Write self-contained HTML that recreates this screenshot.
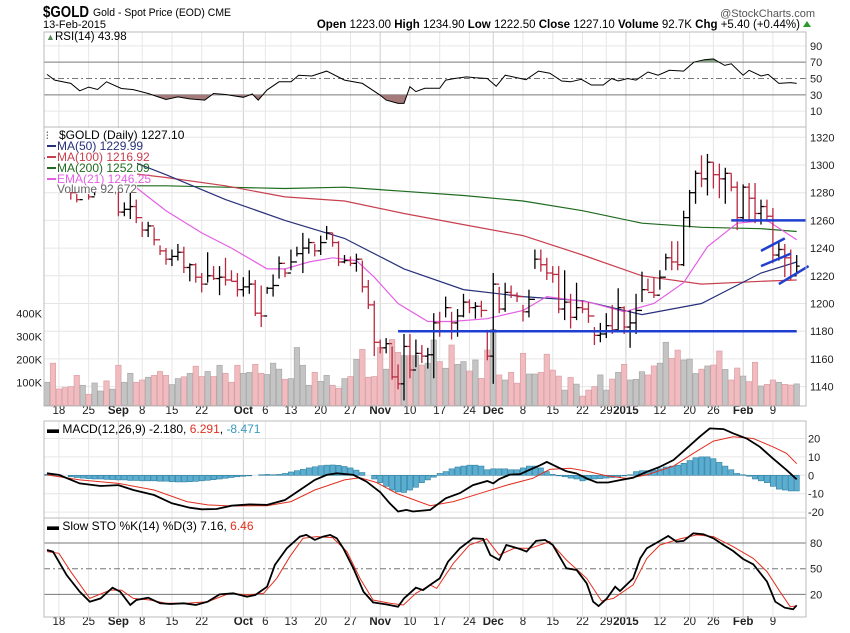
<!DOCTYPE html>
<html><head><meta charset="utf-8">
<style>
body{margin:0;background:#fff;}
svg{display:block;font-family:"Liberation Sans",sans-serif;}
</style></head>
<body>
<svg id="c" width="850" height="633" viewBox="0 0 850 633" xmlns="http://www.w3.org/2000/svg">
  <text x="43" y="17" font-size="16" font-weight="bold" textLength="46" lengthAdjust="spacingAndGlyphs">$GOLD</text>
  <text x="93" y="16" font-size="11" textLength="138" lengthAdjust="spacingAndGlyphs">Gold - Spot Price (EOD)  CME</text>
  <text x="43" y="28" font-size="11">13-Feb-2015</text>
  <text x="815" y="17" font-size="11" text-anchor="end" fill="#555">@StockCharts.com</text>
  <text x="800" y="28" font-size="11.5" text-anchor="end"><tspan font-weight="bold">Open</tspan> 1223.00 <tspan font-weight="bold">High</tspan> 1234.90 <tspan font-weight="bold">Low</tspan> 1222.50 <tspan font-weight="bold">Close</tspan> 1227.10 <tspan font-weight="bold">Volume</tspan> 92.7K <tspan font-weight="bold">Chg</tspan> +5.40 (+0.44%)</text>
  <polygon points="803,27 811,27 807,21" fill="#2a9a2a"/>
  <g id="g"></g>
</svg>
<script>
// ===== DATA =====
const high=[1315,1310,1305,1300,1298,1279,1295,1279,1288,1292,1290,1290,1286,1273,1280,1275,1259,1259,1255,1242,1240,1239,1243,1241,1229,1229,1222,1237,1227,1227,1233,1224,1222,1219,1224,1217,1213,1212,1221,1234,1225,1239,1241,1251,1247,1243,1249,1256,1251,1245,1235,1234,1236,1231,1217,1202,1174,1175,1169,1156,1178,1178,1174,1170,1168,1193,1194,1205,1194,1196,1207,1203,1201,1202,1181,1222,1212,1215,1213,1208,1199,1210,1239,1239,1233,1227,1227,1224,1207,1215,1202,1201,1183,1186,1193,1199,1211,1198,1195,1207,1223,1218,1219,1224,1236,1245,1245,1267,1282,1296,1307,1308,1302,1301,1298,1294,1288,1286,1287,1287,1275,1275,1269,1245,1243,1239,1235];
const low=[1300,1296,1295,1290,1275,1273,1282,1275,1278,1282,1282,1280,1263,1263,1261,1258,1248,1248,1242,1235,1228,1227,1231,1222,1216,1215,1208,1215,1217,1206,1213,1216,1205,1205,1207,1191,1183,1207,1205,1218,1219,1224,1234,1222,1236,1234,1235,1246,1241,1227,1229,1227,1223,1208,1196,1162,1164,1164,1145,1138,1130,1146,1154,1157,1153,1146,1176,1190,1174,1176,1190,1193,1189,1190,1159,1142,1193,1194,1204,1201,1187,1190,1225,1223,1217,1215,1193,1188,1182,1188,1193,1186,1170,1172,1175,1178,1181,1178,1168,1178,1201,1209,1204,1210,1224,1224,1224,1227,1255,1272,1284,1278,1283,1276,1272,1281,1253,1259,1259,1258,1257,1259,1229,1231,1219,1217,1221];
const close=[1305,1300,1298,1293,1280,1275,1284,1277,1284,1287,1286,1287,1266,1268,1270,1262,1253,1256,1246,1238,1232,1234,1237,1226,1228,1219,1214,1220,1218,1219,1217,1216,1210,1212,1214,1193,1191,1211,1213,1229,1222,1230,1236,1240,1244,1238,1244,1251,1244,1230,1231,1229,1232,1212,1199,1172,1168,1171,1147,1142,1169,1152,1164,1162,1163,1186,1180,1197,1186,1191,1201,1197,1198,1195,1162,1214,1196,1208,1206,1205,1194,1203,1232,1228,1222,1221,1196,1201,1190,1197,1196,1191,1177,1178,1184,1181,1197,1183,1186,1195,1210,1208,1206,1219,1233,1230,1228,1262,1280,1294,1290,1302,1293,1290,1294,1284,1262,1284,1276,1265,1270,1263,1235,1239,1233,1220,1227];
const volumeK=[100,183,71,77,81,130,87,48,97,62,106,70,174,100,139,100,110,122,130,147,130,90,116,124,139,170,125,147,125,174,139,100,174,139,143,178,139,134,183,157,113,116,251,174,87,143,104,130,87,74,116,125,200,243,122,125,251,157,286,230,216,216,216,175,183,284,190,161,262,178,190,149,197,117,240,330,132,110,143,96,226,136,136,143,222,153,127,66,121,92,40,66,81,132,66,114,143,178,110,113,146,132,171,183,274,204,240,197,201,138,157,171,175,236,156,110,162,127,103,187,84,91,110,100,91,88,93];
const macdHist=[0.5,0.5,0.3,0,-0.8,-1.2,-1.5,-1.8,-2,-2,-2.2,-2.3,-2.5,-2.5,-2.8,-2.8,-3,-3,-3,-3.2,-3.2,-3.5,-3.6,-3.6,-3.5,-3.3,-3,-2.7,-2.4,-2,-1.6,-1.2,-0.8,-0.5,-0.3,0,0.3,0.5,0.3,0.5,1,1.8,2.5,3.2,4,4.6,5.2,5.5,5.6,5.4,4.8,4,2.8,1.5,0,-2,-4,-6,-8,-9,-9.3,-8,-6.5,-4,-2.5,-1,1,2,3.5,4.5,5,5.5,5.5,5,3,3.5,3.5,3.5,3,3,4,5,5,4,2,0.5,-0.3,-0.8,-1.5,-2,-3,-2.5,-2,-1.8,-1.5,-1.2,-1,-0.3,0.3,2,2.5,2.5,2.8,3.5,4.5,5,5.5,6.5,8,9.5,10,10,9,7,5,3,1,0.3,-0.5,-2,-3,-4,-6,-7.5,-8,-8.5,-8.5];

const ma50Idx=[14,20,30,40,50,60,70,80,90,100,110,120,126];
const ma50Val=[1303,1293,1275,1260,1247,1225,1210,1205,1202,1192,1200,1222,1230];
const ma100Idx=[14,20,30,40,50,60,70,80,90,100,110,120,126];
const ma100Val=[1294,1291,1285,1277,1274,1265,1257,1249,1235,1220,1214,1216,1217];
const ma200Idx=[14,20,30,40,50,60,70,80,90,100,110,120,126];
const ma200Val=[1285,1285,1284,1283,1284,1281,1278,1274,1267,1258,1255,1254,1252];
const emaIdx=[14,20,26,31,37,40,44,48,52,55,59,64,68,74,80,84,91,97,102,107,111,116,121,126];
const emaVal=[1287,1267,1251,1240,1225,1225,1230,1233,1231,1219,1200,1187,1187,1189,1195,1205,1201,1194,1200,1215,1241,1258,1260,1246];

const rsiIdx=[0,1.3,4,5.5,7,8.5,10,12.5,14.5,17,20,22,24,26.5,28,30,33,34.5,35.5,37,39,41,42.3,44.5,47,50,53,56,57,59,60,61,62,63.5,66,67,68.5,70.5,72,74,75.5,77,79,80.5,82.6,84.5,86.5,88,89.8,91.5,93.5,94.9,96,97.6,99,101,102.7,104.6,107,108.7,110.5,112,113.9,115,117,118,120,121.2,123,125,126];
const rsiVal=[55,48,44,35,39.5,36.5,46,37.7,36.4,31.6,24.3,27.5,25,23.5,31.6,30.4,27,31,23.5,36,46,46,54,53,59,48,44,29.6,23.5,19.5,19.5,40,34,38,38,48,50,52,51,50,40.5,54,51,48.5,59,56.5,47,46,49,42,42,50,47,50,48,58,54,60,59,70,73,74,66,68,54,60,53,55,44,45,44];

const macdIdx=[0,2,5.5,9,12,14.5,18,21,24,26,28.5,31,34,37,40,42.5,45,47,48.7,51.5,53.7,56,57.6,59,60.4,61.5,64.4,67,69.4,71.6,74,75,76,77.8,79.5,81,82.9,84,85.7,87.3,89,90.7,92.4,94.3,96.3,98.5,100.8,103,105.3,107.5,109.7,111.4,113.7,115.3,117.6,119.8,122,124.3,126];
const macdVal=[1.1,0.2,-4.4,-5.8,-5.3,-8,-10.7,-15.2,-17.6,-18.5,-18.3,-16.5,-15.8,-16.1,-13.4,-8,-2.5,0.2,1.1,0.2,-3.4,-9.2,-15.2,-19.7,-18.8,-19.7,-18.8,-12.5,-9.7,-5.3,-3.1,-4.4,-2,0.4,0.6,2.8,5.5,7.3,4.6,2.2,1,-1.7,-3.9,-3.9,-2.6,-1.3,1.9,4.6,8.3,14.6,21,25.5,25.1,22.8,20,15.5,9.2,2.8,-2.2];
const signalIdx=[0,5.5,12,18,23.5,27,31,37,41,45,50,52.6,55.4,58.8,64.4,68.3,72.8,77.3,81.6,84.5,87.9,90.7,94,97.4,100.8,105.3,108.6,112,115.3,118.7,122,124.3,126];
const signalVal=[0.2,-2.5,-4.4,-8,-14.3,-16.1,-16.7,-16.5,-14.3,-8,-2.5,-1.3,-3.9,-9.9,-16.5,-14.3,-9.8,-5.3,-1.7,3.2,3.8,2.3,-0.2,-1.7,0.2,5,11.9,18.6,21,20,15.5,11.9,6.3];

const stoKIdx=[0,1,3.3,5.5,7.2,9,11,12.3,14,15,17,19,20.7,23,25,27,29,31.3,33.6,35,37,38.3,40.3,42.5,43.6,45,46.4,47.6,48.7,49.8,51.5,53.2,54.8,57,59,60,62,63.2,64.4,66,67.4,69.4,71.6,73.3,74.5,76,77.2,79.5,80.6,82.2,83.7,85,87.3,89,90.7,91.8,92.7,94.1,95.5,96.3,98.5,99.7,100.8,103,104.4,105.8,107,108.6,110.3,112,113.7,115.3,117,118.7,121,122.4,124,125.4,126];
const stoKVal=[71.9,69.9,42.6,23.1,11.4,15.3,27.8,23.1,7.5,13.4,16.1,9.5,8.7,9.5,7.5,11.4,20,21.2,17.3,19.2,29,54.4,73.9,87.5,89.5,83.7,87.5,89.5,85.6,73.9,50.5,23.1,10.6,8.3,5.5,15.3,27.8,25,31,38.7,58.2,73.9,85.6,84.8,66,60.2,77.7,73,70,82.5,83.7,77.7,50.5,48.5,32.9,11.4,6.3,15.3,29,23.9,38.7,62,73.9,82.5,88.3,81.7,82.5,91.4,90.3,85.6,77.7,70.8,61.4,55.2,34.9,11.4,4.4,2.5,7.2];
const stoDIdx=[0,2,4,7.2,10.6,12.5,14.5,17.3,20,23.5,27,30.7,33.6,36.4,38.6,40.8,43,45.3,48,50.4,52.6,54.8,57.6,59.9,62,64.4,65.5,68.3,71,73.9,76,78.5,81.2,84.5,87.3,90.7,93.2,95.2,98.5,100.8,103,106.4,109.2,112,115.3,118.7,121,123.2,124.9,126];
const stoDVal=[70,68,46.5,15.3,25,25,15.3,13.4,9.5,9.5,11.4,21.2,19.2,21.2,38.7,64,85.6,87.5,86.4,70,38.7,13.4,9.5,7.5,21.2,31,27,56.3,77.7,84.8,66,73.9,73.9,81.7,60.2,38.7,12.2,15.3,31,62,77.7,84.8,89.5,87.5,75.8,62,46.6,23.1,5.5,6.5];

const priceTicks=[1320,1300,1280,1260,1240,1220,1200,1180,1160,1140];
const volTicks=[400,300,200,100];
const rsiTicks=[90,70,50,30,10];
const macdTicks=[20,10,0,-10,-20];
const stoTicks=[80,50,20];
const dateLabels=["18","25","Sep","8","15","22","Oct","6","13","20","27","Nov","10","17","24","Dec","8","15","22","29","2015","12","20","26","Feb","9"];
const dateIdx=[2,7,12,16,21,26,33,36.7,41,46,51,56,61,66,71,75,80,85,90,94,97.3,103,108,112,117,122];
const monthFlags=[0,0,1,0,0,0,1,0,0,0,0,1,0,0,0,1,0,0,0,0,1,0,0,0,1,0];
const supportLevels=[1180,1260];
const supportStart=[59,115];
const supportEnd=[126,127.5];

// ===== SCALES =====
const L=44,R=806;
const X=i=>47+5.95*i;
const PY=p=>137.3+(1320-p)*1.385;
const VY=v=>405.3-v*0.23;
const RY=v=>78.5-(v-50)*0.8167;
const MY=v=>475.3-v*1.84;
const SY=v=>568.7-(v-50)*0.855;
const panels=[{n:'rsi-panel',t:32,b:127},{n:'price-panel',t:127,b:406},{n:'macd-panel',t:421,b:518},{n:'sto-panel',t:518,b:617}];

const NS='http://www.w3.org/2000/svg';
const G=document.getElementById('g');
function mk(tag,attrs,parent){const e=document.createElementNS(NS,tag);for(const k in attrs)e.setAttribute(k,attrs[k]);(parent||G).appendChild(e);return e;}
function txt(x,y,s,attrs){const e=mk('text',Object.assign({x:x,y:y,'font-size':11},attrs||{}));e.textContent=s;return e;}
function pts(idx,val,f){return idx.map((i,k)=>X(i).toFixed(1)+','+f(val[k]).toFixed(1)).join(' ');}

// grids
panels.forEach(p=>{
  const bg=mk('rect',{x:L,y:p.t,width:R-L,height:p.b-p.t,fill:'#fff',stroke:'none'});
  
  
  dateIdx.forEach((i,k)=>{
    const gl=mk('line',{x1:X(i),x2:X(i),y1:p.t,y2:p.b,stroke:monthFlags[k]?'#cfcfcf':'#e6e6e6','stroke-width':1});
    
    
  });
});
priceTicks.forEach(v=>{
  const gl=mk('line',{x1:L,x2:R,y1:PY(v),y2:PY(v),stroke:'#e6e6e6'});
  
  
  const tl=txt(810,PY(v)+4,String(v),{fill:'#222'});
  
  
});
volTicks.forEach(v=>{
  const tl=txt(42,VY(v)+4,v+'K',{'text-anchor':'end',fill:'#222'});
  
  
});
rsiTicks.forEach(v=>{
  const solid=(v===70||v===30), mid=v===50;
  const gl=mk('line',{x1:L,x2:R,y1:RY(v),y2:RY(v),stroke:(solid||mid)?'#777':'#e6e6e6','stroke-dasharray':mid?'6,3,2,3':'none'});
  
  
  const tl=txt(810,RY(v)+4,String(v),{fill:'#222'});
  
  
});
macdTicks.forEach(v=>{
  const gl=mk('line',{x1:L,x2:R,y1:MY(v),y2:MY(v),stroke:'#e6e6e6'});
  
  
  const tl=txt(808,MY(v)+4,String(v),{fill:'#222'});
  
  
});
stoTicks.forEach(v=>{
  const mid=v===50;
  const gl=mk('line',{x1:L,x2:R,y1:SY(v),y2:SY(v),stroke:'#777','stroke-dasharray':mid?'6,3,2,3':'none'});
  
  
  const tl=txt(810,SY(v)+4,String(v),{fill:'#222'});
  
  
});
// date labels
[414,625].forEach(y=>{
  dateLabels.forEach((s,k)=>{
    const tl=txt(X(dateIdx[k]),y,s,{'text-anchor':'middle','font-weight':monthFlags[k]?'bold':'normal',fill:'#222','font-size':11.5});
    
    
  });
});

// RSI fill & line
const rsiPoly=pts(rsiIdx,rsiVal,RY);
const c1=mk('clipPath',{id:'lo30'});mk('rect',{x:L,y:RY(30),width:R-L,height:40},c1);
const c2=mk('clipPath',{id:'hi70'});mk('rect',{x:L,y:RY(100),width:R-L,height:RY(70)-RY(100)},c2);
const f1=mk('polygon',{points:X(rsiIdx[0])+','+RY(30)+' '+rsiPoly+' '+X(rsiIdx[rsiIdx.length-1])+','+RY(30),fill:'#a57a7a','clip-path':'url(#lo30)'});


const f2=mk('polygon',{points:X(rsiIdx[0])+','+RY(70)+' '+rsiPoly+' '+X(rsiIdx[rsiIdx.length-1])+','+RY(70),fill:'#7fa07f','clip-path':'url(#hi70)'});


const rl=mk('polyline',{points:rsiPoly,fill:'none',stroke:'#000','stroke-width':1});



// volume bars
volumeK.forEach((v,i)=>{
  const up=i===0?true:close[i]>=close[i-1];
  const b=mk('rect',{x:X(i)-2.7,y:VY(v),width:5.4,height:405.3-VY(v),fill:up?'#c4c4c4':'#f0bcc0',stroke:up?'#a8a8a8':'#dba0a6','stroke-width':0.7});
  
  
});

// moving averages
[[ma200Idx,ma200Val,'#1f6b1f','ma200-line'],[ma100Idx,ma100Val,'#c8404e','ma100-line'],[ma50Idx,ma50Val,'#27307a','ma50-line'],[emaIdx,emaVal,'#e45fe4','ema21-line']].forEach(a=>{
  const l=mk('polyline',{points:pts(a[0],a[1],PY),fill:'none',stroke:a[2],'stroke-width':1.2});
  
  
});

// price bars
close.forEach((c,i)=>{
  const o=i===0?c:close[i-1];
  const col=(i===0||c>=close[i-1])?'#000':'#b8293f';
  const g=mk('g',{stroke:col,'stroke-width':1.3});
  
  
  mk('line',{x1:X(i),x2:X(i),y1:PY(high[i]),y2:PY(low[i])},g);
  mk('line',{x1:X(i)-3,x2:X(i),y1:PY(o),y2:PY(o)},g);
  mk('line',{x1:X(i),x2:X(i)+3,y1:PY(c),y2:PY(c)},g);
});

// annotations
supportLevels.forEach((p,k)=>{
  const l=mk('line',{x1:X(supportStart[k]),x2:X(supportEnd[k]),y1:PY(p),y2:PY(p),stroke:'#1f3fd0','stroke-width':2.5});
  
  
});
[[120,1238,124,1247],[120,1227,125,1236],[123,1214,128,1227]].forEach(a=>{
  const l=mk('line',{x1:X(a[0]),y1:PY(a[1]),x2:X(a[2]),y2:PY(a[3]),stroke:'#1f3fd0','stroke-width':2.5});
  
  
});

// MACD
macdHist.forEach((v,i)=>{
  const b=mk('rect',{x:X(i)-2.6,y:Math.min(MY(v),MY(0)),width:5.2,height:Math.abs(MY(v)-MY(0)),fill:'#5aaed2',stroke:'#2d7e9e','stroke-width':0.6});
  
  
});
const sg=mk('polyline',{points:pts(signalIdx,signalVal,MY),fill:'none',stroke:'#e03020','stroke-width':1});


const ml=mk('polyline',{points:pts(macdIdx,macdVal,MY),fill:'none',stroke:'#000','stroke-width':1.8});



// STO
const sd=mk('polyline',{points:pts(stoDIdx,stoDVal,SY),fill:'none',stroke:'#e03020','stroke-width':1});


const sk=mk('polyline',{points:pts(stoKIdx,stoKVal,SY),fill:'none',stroke:'#000','stroke-width':1.8});



// panel borders
panels.forEach(p=>{
  const b=mk('rect',{x:L,y:p.t,width:R-L,height:p.b-p.t,fill:'none',stroke:'#bbb','stroke-width':1});
  
  
});

// legends
const lgBg=mk('rect',{x:45,y:128,width:92,height:64,fill:'#fff'});


const lg=[['$GOLD (Daily) 1227.10','#000',139],['MA(50) 1229.99','#27307a',150],['MA(100) 1216.92','#c8404e',161],['MA(200) 1252.09','#1f6b1f',172],['EMA(21) 1246.25','#e45fe4',183],['Volume 92,672','#666',193]];
lg.forEach((a,k)=>{
  if(k>0&&k<5){const sw=mk('line',{x1:47,x2:56,y1:a[2]-4,y2:a[2]-4,stroke:a[1],'stroke-width':2});
    
    }
  const t=txt(k===0?59:57,a[2],a[0],{fill:a[1],'font-size':12});
  
  
});
const ic=txt(46,139,'⫶',{'font-size':10});


const ri=txt(46,40,'▲',{'font-size':9,fill:'#5a8a5a'});


const rt=txt(55,40,'RSI(14) 43.98',{'font-size':11.5});


const mt=mk('text',{x:47,y:433,'font-size':12});


mt.innerHTML='<tspan font-weight="bold">▬</tspan> MACD(12,26,9) -2.180, <tspan fill="#e03020">6.291</tspan>, <tspan fill="#3a9ac0">-8.471</tspan>';
const st=mk('text',{x:47,y:530,'font-size':12});


st.innerHTML='<tspan font-weight="bold">▬</tspan> Slow STO %K(14) %D(3) 7.16, <tspan fill="#e03020">6.46</tspan>';
</script>
</body></html>
